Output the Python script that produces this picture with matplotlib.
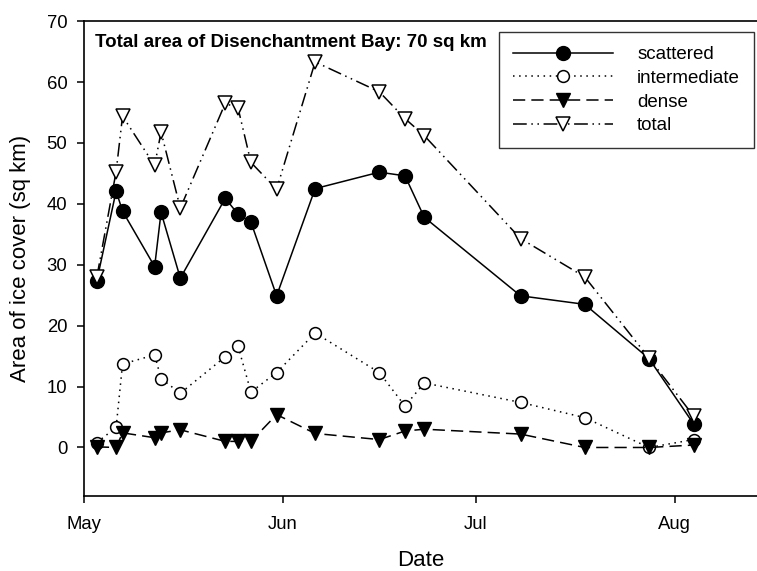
import numpy as np
import pandas as pd
import matplotlib.pyplot as plt
import matplotlib.dates as mdates

plt.rcParams['font.family'] = ['Liberation Sans', 'DejaVu Sans']

# Survey dates and ice cover (sq km) per category
dates = pd.to_datetime(['2004-05-03', '2004-05-06', '2004-05-07', '2004-05-12', '2004-05-13',
                        '2004-05-16', '2004-05-23', '2004-05-25', '2004-05-27', '2004-05-31',
                        '2004-06-06', '2004-06-16', '2004-06-20', '2004-06-23', '2004-07-08',
                        '2004-07-18', '2004-07-28', '2004-08-04'])
scattered = [27.4, 42.1, 38.8, 29.7, 38.6, 27.8, 40.9, 38.3, 37.0, 24.9,
             42.5, 45.2, 44.6, 37.8, 24.9, 23.5, 14.6, 3.8]
intermediate = [0.8, 3.3, 13.7, 15.2, 11.3, 8.9, 14.9, 16.6, 9.1, 12.3,
                18.8, 12.3, 6.8, 10.6, 7.4, 4.9, 0.0, 1.3]
dense = [0.1, 0.0, 2.4, 1.6, 2.4, 2.9, 1.0, 1.0, 1.0, 5.4,
         2.3, 1.3, 2.7, 3.0, 2.2, 0.0, 0.0, 0.4]
total = [28.0, 45.3, 54.4, 46.3, 51.8, 39.3, 56.5, 55.7, 46.8, 42.4,
         63.3, 58.4, 54.0, 51.2, 34.3, 28.0, 14.7, 5.1]

fig = plt.figure(figsize=(7.57, 5.71), dpi=100)
ax = fig.add_axes([0.111, 0.131, 0.889, 0.832])

lw = 1.1
ax.plot(dates, scattered, color='black', lw=lw, ls='-', marker='o', ms=10,
        mfc='black', mec='black', label='scattered')
ax.plot(dates, intermediate, color='black', lw=lw, ls=(0, (1, 3)), marker='o', ms=8.5,
        mfc='white', mec='black', mew=1.1, label='intermediate')
ax.plot(dates, dense, color='black', lw=lw, ls=(0, (8, 4)), marker='v', ms=9.5,
        mfc='black', mec='black', label='dense')
ax.plot(dates, total, color='black', lw=lw, ls=(0, (9, 3, 1, 3, 1, 3)), marker='v', ms=9.5,
        mfc='white', mec='black', mew=1.1, label='total')

ax.set_xlim(pd.Timestamp('2004-05-01'), pd.Timestamp('2004-08-13 20:00'))
ax.set_ylim(-8, 70)
ax.set_yticks(np.arange(0, 71, 10))
ax.xaxis.set_major_locator(mdates.MonthLocator())
ax.xaxis.set_major_formatter(mdates.DateFormatter('%b'))

ax.spines['right'].set_visible(False)
for s in ['left', 'bottom', 'top']:
    ax.spines[s].set_linewidth(1.2)
ax.tick_params(direction='out', length=5, width=1.1, labelsize=13.3)
ax.tick_params(axis='y', pad=7)
ax.tick_params(axis='x', pad=9.5)

ax.set_xlabel('Date', fontsize=16, labelpad=12)
ax.set_ylabel('Area of ice cover (sq km)', fontsize=16, labelpad=11)

ax.text(0.0163, 0.954, 'Total area of Disenchantment Bay: 70 sq km', transform=ax.transAxes,
        fontsize=13.5, fontweight='bold', va='center', ha='left')

leg = ax.legend(loc='upper right', bbox_to_anchor=(0.9955, 0.977), fontsize=13.5,
                frameon=True, fancybox=False, edgecolor='black', handlelength=5.3,
                handletextpad=1.3, labelspacing=0.35, borderpad=0.75, borderaxespad=0)
leg.get_frame().set_linewidth(1.0)

fig.savefig('out.png', dpi=100)
